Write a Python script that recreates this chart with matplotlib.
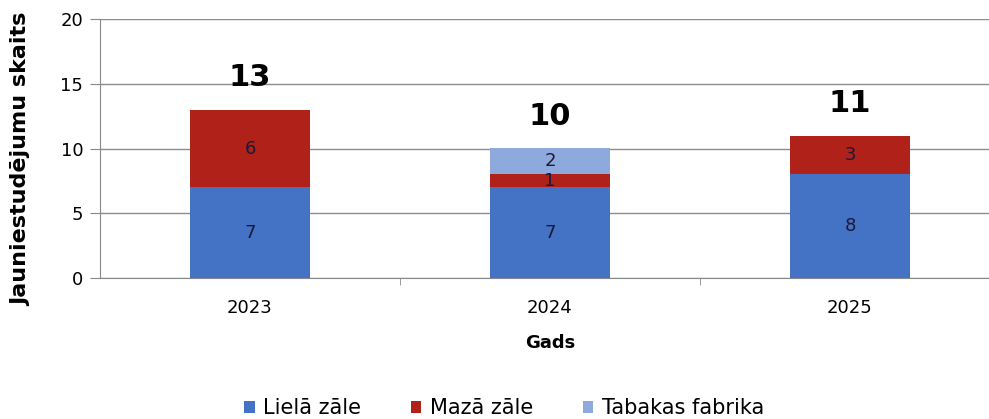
import numpy as np
import matplotlib.pyplot as plt

# dati
years = ['2023', '2024', '2025']
liela_zale = [7, 7, 8]
maza_zale = [6, 1, 3]
tabakas_fabrika = [0, 2, 0]
series_names = ['Lielā zāle', 'Mazā zāle', 'Tabakas fabrika']
colors = ['#4472C4', '#B0211A', '#8EA9DB']

plt.rcParams['font.family'] = ['DejaVu Sans']

fig = plt.figure(figsize=(9.89, 4.19), dpi=100)
ax = fig.add_axes([100 / 989, 1 - 278 / 419, 900 / 989, 259 / 419])

x = np.arange(len(years))
bottom = np.zeros(len(years))
for vals, name, col in zip([liela_zale, maza_zale, tabakas_fabrika], series_names, colors):
    vals = np.array(vals)
    ax.bar(x, vals, 0.4, bottom=bottom, color=col, label=name, zorder=3)
    for xi, b, v in zip(x, bottom, vals):
        if v > 0:
            ax.text(xi, b + v / 2, str(v), ha='center', va='center',
                    fontsize=13, color='#1a1a3a', zorder=4)
    bottom += vals

# kopsummas virs stabiņiem
for xi, tot in zip(x, bottom):
    ax.annotate(str(int(tot)), (xi, tot), xytext=(0, 17), textcoords='offset points',
                ha='center', va='baseline', fontsize=22, fontweight='bold')

ax.set_xlim(-0.5, 2.5)
ax.set_ylim(0, 20)
ax.set_yticks([0, 5, 10, 15, 20])
ax.set_xticks(x)
ax.set_xticklabels(years, fontsize=13)
ax.set_xticks([0.5, 1.5], minor=True)
ax.tick_params(axis='x', which='major', length=0, pad=15)
ax.tick_params(axis='x', which='minor', length=5, color='#888888')
ax.tick_params(axis='y', length=7, color='#888888', labelsize=13, pad=5)
ax.grid(axis='y', color='#8c8c8c', linewidth=1, zorder=0)

for s in ['top', 'right']:
    ax.spines[s].set_visible(False)
ax.spines['left'].set_color('#888888')
ax.spines['bottom'].set_color('#888888')

ax.set_ylabel('Jauniestudējumu skaits', fontsize=16, fontweight='bold')
ax.yaxis.set_label_coords(-0.076, 0.46)
ax.set_xlabel('Gads', fontsize=13, fontweight='bold', labelpad=12)

fig.legend(loc='center', bbox_to_anchor=(504 / 989, 11 / 419), ncol=3, frameon=False,
           fontsize=15, handlelength=0.5, handleheight=0.5, handletextpad=0.4,
           columnspacing=2.4)

fig.savefig('out.png', dpi=100)
